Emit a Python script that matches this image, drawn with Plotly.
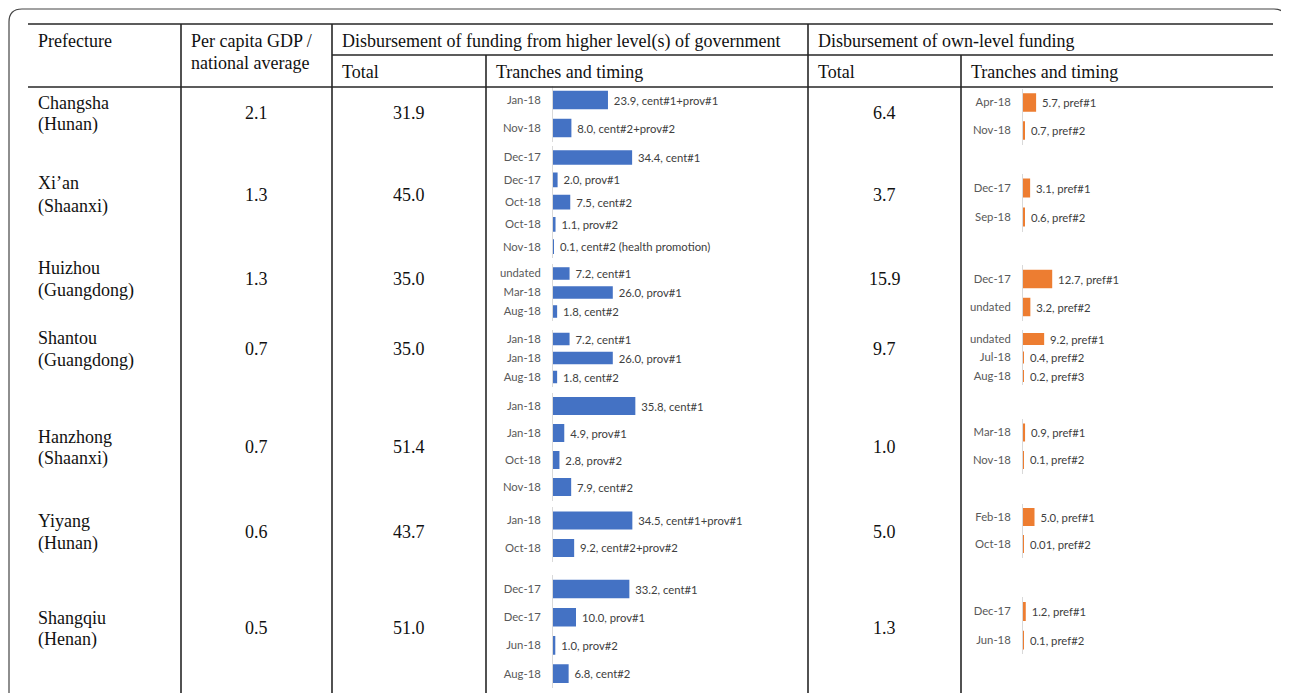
import plotly.graph_objects as go

W, H = 1289, 693

# ---------------- data ----------------
prefectures = ["Changsha", "Xi’an", "Huizhou", "Shantou", "Hanzhong", "Yiyang", "Shangqiu"]
provinces = ["(Hunan)", "(Shaanxi)", "(Guangdong)", "(Guangdong)", "(Shaanxi)", "(Hunan)", "(Henan)"]
gdp_ratio = ["2.1", "1.3", "1.3", "0.7", "0.7", "0.6", "0.5"]
higher_total = ["31.9", "45.0", "35.0", "35.0", "51.4", "43.7", "51.0"]
own_total = ["6.4", "3.7", "15.9", "9.7", "1.0", "5.0", "1.3"]

higher_dates = [
    ["Jan-18", "Nov-18"],
    ["Dec-17", "Dec-17", "Oct-18", "Oct-18", "Nov-18"],
    ["undated", "Mar-18", "Aug-18"],
    ["Jan-18", "Jan-18", "Aug-18"],
    ["Jan-18", "Jan-18", "Oct-18", "Nov-18"],
    ["Jan-18", "Oct-18"],
    ["Dec-17", "Dec-17", "Jun-18", "Aug-18"],
]
higher_values = [
    [23.9, 8.0],
    [34.4, 2.0, 7.5, 1.1, 0.1],
    [7.2, 26.0, 1.8],
    [7.2, 26.0, 1.8],
    [35.8, 4.9, 2.8, 7.9],
    [34.5, 9.2],
    [33.2, 10.0, 1.0, 6.8],
]
higher_names = [
    ["cent#1+prov#1", "cent#2+prov#2"],
    ["cent#1", "prov#1", "cent#2", "prov#2", "cent#2 (health promotion)"],
    ["cent#1", "prov#1", "cent#2"],
    ["cent#1", "prov#1", "cent#2"],
    ["cent#1", "prov#1", "prov#2", "cent#2"],
    ["cent#1+prov#1", "cent#2+prov#2"],
    ["cent#1", "prov#1", "prov#2", "cent#2"],
]

own_dates = [
    ["Apr-18", "Nov-18"],
    ["Dec-17", "Sep-18"],
    ["Dec-17", "undated"],
    ["undated", "Jul-18", "Aug-18"],
    ["Mar-18", "Nov-18"],
    ["Feb-18", "Oct-18"],
    ["Dec-17", "Jun-18"],
]
own_values = [
    [5.7, 0.7],
    [3.1, 0.6],
    [12.7, 3.2],
    [9.2, 0.4, 0.2],
    [0.9, 0.1],
    [5.0, 0.01],
    [1.2, 0.1],
]
own_names = [
    ["pref#1", "pref#2"],
    ["pref#1", "pref#2"],
    ["pref#1", "pref#2"],
    ["pref#1", "pref#2", "pref#3"],
    ["pref#1", "pref#2"],
    ["pref#1", "pref#2"],
    ["pref#1", "pref#2"],
]

header_top = ["Prefecture", "Per capita GDP /", "Disbursement of funding from higher level(s) of government",
              "Disbursement of own-level funding"]
header_sub = ["national average", "Total", "Tranches and timing", "Total", "Tranches and timing"]

# ---------------- layout constants (page pixels) ----------------
higher_pos = [(100, 28), (157.5, 22.3), (273.5, 19), (339, 19), (406, 27), (520.5, 27.5), (589, 28.2)]
own_pos = [(102.5, 28), (188, 29), (279, 28), (339, 18.5), (432.5, 27.5), (517, 27), (611.5, 28.6)]
row_name_y = [(103, 124), (183, 206), (268, 290), (338, 360), (437, 458), (521, 543), (618, 639)]
row_mid_y = [113, 195, 279, 349, 447, 532, 628]

HX0, OX0, SPAN = 553, 1023, 230  # axis origin px and px for 100 units
OFF = 8  # default page body margin of the browser


def px(x):
    return (x - OFF) / W


def py(y):
    return 1 - (y - OFF) / H


def fmt(v):
    return f"{v:.2f}" if round(v, 1) != v else f"{v:.1f}"


SERIF = "Liberation Serif"
SANS = "Lato"
fig = go.Figure()
layout = {}
k = 0


def add_group(dates, vals, names, pos, x0, color):
    global k
    k += 1
    n = len(vals)
    first, d = pos
    top = first - d / 2
    bot = first + (n - 1) * d + d / 2
    xa = "x" if k == 1 else f"x{k}"
    ya = "y" if k == 1 else f"y{k}"
    xkey = "xaxis" if k == 1 else f"xaxis{k}"
    ykey = "yaxis" if k == 1 else f"yaxis{k}"
    fig.add_trace(go.Bar(
        x=vals, y=list(range(n)), orientation="h",
        marker=dict(color=color, line=dict(width=0)), width=0.66,
        text=["\u00a0" + fmt(v) + ", " + nm for v, nm in zip(vals, names)],
        textposition="outside", cliponaxis=False, constraintext="none",
        textfont=dict(family=SANS, size=11.3, color="#404040"),
        hoverinfo="skip", xaxis=xa, yaxis=ya,
    ))
    layout[xkey] = dict(domain=[px(x0), px(x0 + SPAN)], range=[0, 100], visible=False,
                        anchor=ya, fixedrange=True)
    layout[ykey] = dict(domain=[py(bot), py(top)], range=[n - 0.5, -0.5],
                        tickvals=list(range(n)), ticktext=dates, anchor=xa,
                        showline=True, linecolor="#D9D9D9", linewidth=1,
                        ticks="", showgrid=False, zeroline=False, ticklabelstandoff=9,
                        tickfont=dict(family=SANS, size=11.3, color="#595959"), fixedrange=True)


for i in range(len(prefectures)):
    add_group(higher_dates[i], higher_values[i], higher_names[i], higher_pos[i], HX0, "#4472C4")
for i in range(len(prefectures)):
    add_group(own_dates[i], own_values[i], own_names[i], own_pos[i], OX0, "#ED7D31")

# ---------------- table lines ----------------
LC = "#262626"
LW = 1.6
shapes = []
BOTTOM = H + OFF


def hline(y, x0, x1):
    shapes.append(dict(type="line", xref="paper", yref="paper", x0=px(x0), x1=px(x1), y0=py(y), y1=py(y),
                       line=dict(color=LC, width=LW)))


def vline(x, y0, y1):
    shapes.append(dict(type="line", xref="paper", yref="paper", x0=px(x), x1=px(x), y0=py(y0), y1=py(y1),
                       line=dict(color=LC, width=LW)))


hline(24, 28, 1273)
hline(55, 332, 1273)
hline(87, 28, 1273)
vline(181, 24, BOTTOM)
vline(332, 24, BOTTOM)
vline(486, 55, BOTTOM)
vline(808, 24, BOTTOM)
vline(961, 55, BOTTOM)

# rounded outer frame
frame = (f"M {px(9)},{py(BOTTOM)} L {px(9)},{py(22)} Q {px(9)},{py(9)} {px(22)},{py(9)} "
         f"L {px(1274)},{py(9)} Q {px(1286)},{py(9)} {px(1286)},{py(21)} L {px(1286)},{py(BOTTOM)}")
shapes.append(dict(type="path", xref="paper", yref="paper", path=frame,
                   line=dict(color="#444444", width=1.2)))

# ---------------- table text ----------------
ann = []
FS = 18


def txt(s, x, y, anchor="left"):
    xx = x - 2 if anchor == "left" else x
    ann.append(dict(text=s, x=px(xx), y=py(y), xref="paper", yref="paper", xanchor=anchor, yanchor="middle",
                    showarrow=False, font=dict(family=SERIF, size=FS, color="#111111")))


txt(header_top[0], 38, 41)
txt(header_top[1], 191, 41)
txt(header_sub[0], 191, 63)
txt(header_top[2], 342, 41)
txt(header_sub[1], 342, 72)
txt(header_sub[2], 496, 72)
txt(header_top[3], 818, 41)
txt(header_sub[3], 818, 72)
txt(header_sub[4], 971, 72)

for i in range(len(prefectures)):
    y1, y2 = row_name_y[i]
    txt(prefectures[i], 38, y1)
    txt(provinces[i], 38, y2)
    txt(gdp_ratio[i], 256.5, row_mid_y[i], "center")
    txt(higher_total[i], 409, row_mid_y[i], "center")
    txt(own_total[i], 884.5, row_mid_y[i], "center")

fig.update_layout(**layout)
fig.update_layout(width=W, height=H, margin=dict(l=0, r=0, t=0, b=0), showlegend=False,
                  paper_bgcolor="white", plot_bgcolor="white", shapes=shapes, annotations=ann,
                  bargap=0.3)

fig.write_html("out.html", config={"displayModeBar": False})
